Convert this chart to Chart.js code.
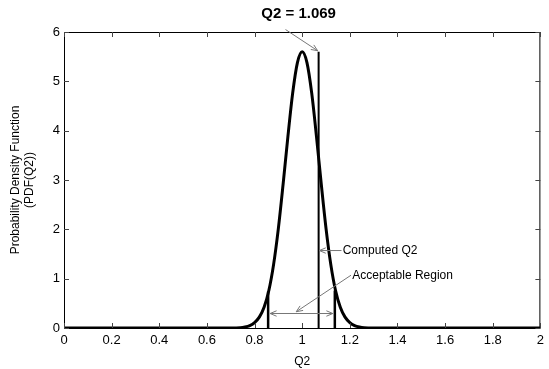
<!DOCTYPE html>
<html>
<head>
<meta charset="utf-8">
<script src="https://cdn.jsdelivr.net/npm/chart.js"></script>
<style>
  html, body { margin: 0; padding: 0; background: #fff; }
  #wrap { width: 549px; height: 369px; }
</style>
</head>
<body>
<div id="wrap"><canvas id="pdf-chart" width="549" height="369"></canvas></div>
<script>
// Courbe de densite
var q2Values = [0, 0.70, 0.74, 0.76, 0.78, 0.80, 0.82, 0.84, 0.86, 0.88, 0.90, 0.92, 0.94, 0.96, 0.98, 1.00,
                1.02, 1.04, 1.06, 1.08, 1.10, 1.12, 1.14, 1.16, 1.18, 1.20, 1.22, 1.24, 1.26, 1.30, 2];
var pdfValues = [0, 0, 0.005, 0.02, 0.05, 0.11, 0.22, 0.42, 0.76, 1.29, 2.02, 2.92, 3.88, 4.76, 5.38, 5.6,
                 5.38, 4.76, 3.88, 2.92, 2.02, 1.29, 0.76, 0.42, 0.22, 0.11, 0.05, 0.02, 0.005, 0, 0];

// Lignes verticales : borne basse, Q2 calcule, borne haute
var lowerBound = [0.857, 0.74];
var computedQ2 = [1.069, 5.6];
var upperBound = [1.137, 0.76];
var regionArrowY = 0.3;

// Ticks
var xTicks = [0, 0.2, 0.4, 0.6, 0.8, 1, 1.2, 1.4, 1.6, 1.8, 2];
var yTicks = [0, 1, 2, 3, 4, 5, 6];

// Annotations (en unites de donnees)
var titleText = 'Q2 = 1.069';
var titleArrow = [0.93, 6.05, 1.065, 5.62];
var computedLabel = ['Computed Q2', 1.17, 1.57];
var computedArrow = [1.165, 1.57, 1.072, 1.57];
var regionLabel = ['Acceptable Region', 1.21, 1.07];
var regionArrow = [1.205, 1.07, 0.975, 0.33];

document.addEventListener("DOMContentLoaded", function() {
    var curve = q2Values.map(function(x, i) { return { x: x, y: pdfValues[i] }; });
    function vline(p) { return [{ x: p[0], y: 0 }, { x: p[0], y: p[1] }]; }

    function arrowHead(ctx, x1, y1, x2, y2, size) {
        var a = Math.atan2(y2 - y1, x2 - x1);
        ctx.beginPath();
        ctx.moveTo(x2 - size * Math.cos(a - 0.4), y2 - size * Math.sin(a - 0.4));
        ctx.lineTo(x2, y2);
        ctx.lineTo(x2 - size * Math.cos(a + 0.4), y2 - size * Math.sin(a + 0.4));
        ctx.stroke();
    }

    var annotations = {
        id: 'annotations',
        afterDraw: function(chart) {
            var ctx = chart.ctx, xs = chart.scales.x, ys = chart.scales.y, ca = chart.chartArea;
            ctx.save();
            // cadre + ticks interieurs
            ctx.strokeStyle = '#000';
            ctx.lineWidth = 1;
            ctx.strokeRect(ca.left + 0.5, ca.top + 0.5, ca.right - ca.left - 1, ca.bottom - ca.top);
            ctx.strokeStyle = '#444';
            ctx.beginPath();
            xTicks.forEach(function(v) {
                var px = Math.round(xs.getPixelForValue(v)) + 0.5;
                ctx.moveTo(px, ca.bottom); ctx.lineTo(px, ca.bottom - 5);
                ctx.moveTo(px, ca.top); ctx.lineTo(px, ca.top + 5);
            });
            yTicks.forEach(function(v) {
                var py = Math.round(ys.getPixelForValue(v)) + 0.5;
                ctx.moveTo(ca.left, py); ctx.lineTo(ca.left + 5, py);
                ctx.moveTo(ca.right, py); ctx.lineTo(ca.right - 5, py);
            });
            ctx.stroke();

            // titre
            ctx.fillStyle = '#000';
            ctx.font = 'bold 15px "Liberation Sans", Arial, sans-serif';
            ctx.textAlign = 'center';
            ctx.textBaseline = 'middle';
            ctx.fillText(titleText, xs.getPixelForValue(0.985), 14);

            // fleches fines grises
            ctx.strokeStyle = '#777';
            ctx.lineWidth = 1;
            [titleArrow, computedArrow, regionArrow].forEach(function(a) {
                var x1 = xs.getPixelForValue(a[0]), y1 = ys.getPixelForValue(a[1]);
                var x2 = xs.getPixelForValue(a[2]), y2 = ys.getPixelForValue(a[3]);
                ctx.beginPath(); ctx.moveTo(x1, y1); ctx.lineTo(x2, y2); ctx.stroke();
                arrowHead(ctx, x1, y1, x2, y2, 7);
            });
            // fleche double de la region acceptable
            var ax1 = xs.getPixelForValue(lowerBound[0]) + 2, ax2 = xs.getPixelForValue(upperBound[0]) - 2;
            var ay = Math.round(ys.getPixelForValue(regionArrowY)) + 0.5;
            ctx.beginPath(); ctx.moveTo(ax1, ay); ctx.lineTo(ax2, ay); ctx.stroke();
            arrowHead(ctx, ax2, ay, ax1, ay, 7);
            arrowHead(ctx, ax1, ay, ax2, ay, 7);

            // libelles
            ctx.fillStyle = '#000';
            ctx.font = '12px "Liberation Sans", Arial, sans-serif';
            ctx.textAlign = 'left';
            [computedLabel, regionLabel].forEach(function(l) {
                ctx.fillText(l[0], xs.getPixelForValue(l[1]), ys.getPixelForValue(l[2]));
            });
            ctx.restore();
        }
    };

    var font = { family: '"Liberation Sans", Arial, sans-serif', size: 12 };
    var tickFont = { family: '"Liberation Sans", Arial, sans-serif', size: 13 };
    new Chart(document.getElementById('pdf-chart').getContext('2d'), {
        type: 'line',
        data: {
            datasets: [
                { data: curve, borderColor: '#000', borderWidth: 3, pointRadius: 0, cubicInterpolationMode: 'monotone' },
                { data: vline(lowerBound), borderColor: '#000', borderWidth: 2.5, pointRadius: 0 },
                { data: vline(computedQ2), borderColor: '#000', borderWidth: 2, pointRadius: 0 },
                { data: vline(upperBound), borderColor: '#000', borderWidth: 2.5, pointRadius: 0 }
            ]
        },
        options: {
            responsive: false,
            animation: false,
            layout: { padding: { top: 32, right: 6, left: 0, bottom: 0 } },
            plugins: { legend: { display: false }, tooltip: { enabled: false } },
            scales: {
                x: {
                    type: 'linear', min: 0, max: 2,
                    afterBuildTicks: function(s) { s.ticks = xTicks.map(function(v) { return { value: v }; }); },
                    afterFit: function(s) { s.height = 41; },
                    grid: { display: false, drawTicks: false, tickLength: 0 },
                    border: { display: false },
                    ticks: { color: '#000', font: tickFont, padding: 5, maxRotation: 0,
                             callback: function(v) { return String(Math.round(v * 10) / 10); } },
                    title: { display: true, text: 'Q2', color: '#000', font: font, padding: { top: 2, bottom: 0 } }
                },
                y: {
                    min: 0, max: 6,
                    afterBuildTicks: function(s) { s.ticks = yTicks.map(function(v) { return { value: v }; }); },
                    afterFit: function(s) { s.width = 64; },
                    grid: { display: false, drawTicks: false, tickLength: 0 },
                    border: { display: false },
                    ticks: { color: '#000', font: tickFont, padding: 4 },
                    title: { display: true, text: ['Probability Density Function', '(PDF(Q2))'], color: '#000',
                             font: font, padding: { top: 8, bottom: 0 } }
                }
            }
        },
        plugins: [annotations]
    });
});
</script>
</body>
</html>
